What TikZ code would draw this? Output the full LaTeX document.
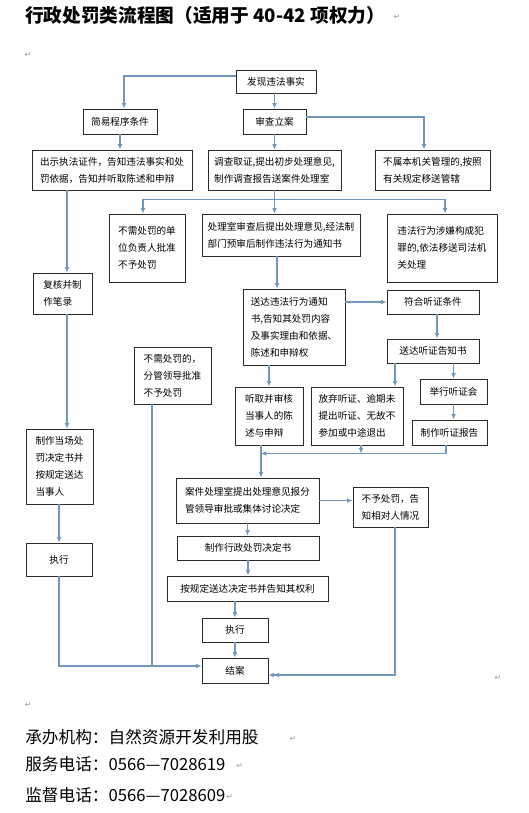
\documentclass[tikz,border=0pt]{standalone}
\usepackage{fontspec}
\setmainfont{Noto Sans CJK SC}
\newfontfamily\markfont{DejaVu Sans}
\usetikzlibrary{arrows.meta,positioning,calc}
\definecolor{flowblue}{HTML}{7397BC}
\definecolor{boxline}{HTML}{2A2A2A}
\definecolor{markgray}{HTML}{9A9A9A}
\tikzset{
  stepbox/.style={draw=boxline,fill=white,line width=0.7pt,align=left,
                  inner sep=0pt,font=\fontsize{7.2}{12.75}\selectfont},
  boxsize/.style 2 args={minimum width=#1*0.75pt,minimum height=#2*0.75pt},
  flow/.style={-{Latex[length=4pt,width=3.6pt]},line width=0.9pt,draw=flowblue},
  dblflow/.style={-{Latex[length=4pt,width=3.6pt]Latex[length=4pt,width=3.6pt]},
                  line width=0.9pt,draw=flowblue},
  plain/.style={line width=0.9pt,draw=flowblue},
  parmark/.style={font=\markfont\fontsize{6}{6}\selectfont,text=markgray,inner sep=0pt},
  infoline/.style={anchor=west,inner sep=0pt,font=\fontsize{12.5}{12.5}\selectfont}
}
\begin{document}
\begin{tikzpicture}[x=0.75pt,y=-0.75pt]
    \fill[white] (0,0) rectangle (528,813);
    \useasboundingbox (0,0) rectangle (528,813);

    \node[anchor=west,inner sep=0pt,font=\bfseries\fontsize{14}{14}\selectfont] (title) at (25,15)
      {行政处罚类流程图（适用于 40-42 项权力）};
    \node[parmark] (markA) at (397,17) {↵};
    \node[parmark] (markB) at (28,55) {↵};

    % top of the flow
    \node[stepbox,boxsize={80}{23},align=center] (fact) at (276,81.5) {发现违法事实};
    \node[stepbox,boxsize={74}{25},align=center] (simple) at (120,121.5) {简易程序条件};
    \node[stepbox,boxsize={63}{25},align=center] (file) at (274.5,121.5) {审查立案};
    \draw[flow] ($(fact.west)+(0,-5.5)$) -| ($(simple.north)+(4,0)$);
    \draw[flow] (fact.south -| file.north) -- (file.north);

    \node[stepbox,boxsize={160}{40}] (show) at (112,170)
      {出示执法证件，告知违法事实和处\\罚依据，告知并听取陈述和申辩};
    \node[stepbox,boxsize={133}{40}] (invest) at (274.5,170)
      {调查取证,提出初步处理意见,\\制作调查报告送案件处理室};
    \node[stepbox,boxsize={115}{40}] (transfer) at (432.5,170)
      {不属本机关管理的,按照\\有关规定移送管辖};
    \draw[flow] (simple.south) -- (simple.south |- show.north);
    \draw[flow] (file.south) -- (file.south |- invest.north);
    \draw[flow] ($(file.east)+(0,-4.5)$) -| ($(transfer.north)+(-8.5,0)$);

    \node[stepbox,boxsize={76}{68}] (nopenA) at (147,248)
      {不需处罚的单\\位负责人批准\\不予处罚};
    \node[stepbox,boxsize={158}{42}] (notice) at (281,235)
      {处理室审查后提出处理意见,经法制\\部门预审后制作违法行为通知书};
    \node[stepbox,boxsize={110}{68}] (crime) at (442,248)
      {违法行为涉嫌构成犯\\罪的,依法移送司法机\\关处理};
    \coordinate (split) at ($(invest.south)+(0,9)$);
    \draw[flow] (invest.south) -- (invest.south |- notice.north);
    \draw[flow] (split) -| ($(nopenA.north)+(-4,0)$);
    \draw[flow] (split) -| ($(crime.north)+(3,0)$);

    % simple procedure branch
    \node[stepbox,boxsize={59}{41}] (review) at (62.5,293.5) {复核并制\\作笔录};
    \node[stepbox,boxsize={67}{75}] (ticket) at (59.5,466.5)
      {制作当场处\\罚决定书并\\按规定送达\\当事人};
    \node[stepbox,boxsize={66}{33},align=center] (execA) at (59,559.5) {执行};
    \coordinate (revtop) at ($(review.north)+(4.5,0)$);
    \coordinate (tictop) at ($(ticket.north)+(7.5,0)$);
    \draw[flow] (revtop |- show.south) -- (revtop);
    \draw[flow] (tictop |- review.south) -- (tictop);
    \draw[flow] (ticket.south -| execA.north) -- (execA.north);

    \node[stepbox,boxsize={77}{57}] (nopenB) at (172.5,375.5)
      {不需处罚的，\\分管领导批准\\不予处罚};

    % notice and hearing
    \node[stepbox,boxsize={102}{76}] (serve) at (294,327)
      {送达违法行为通知\\书,告知其处罚内容\\及事实理由和依据、\\陈述和申辩权};
    \node[stepbox,boxsize={92}{24},align=center] (hearcond) at (433,302) {符合听证条件};
    \node[stepbox,boxsize={92}{24},align=center] (hearnote) at (433,351) {送达听证告知书};
    \node[stepbox,boxsize={67}{25},align=center] (hold) at (453.5,391.5) {举行听证会};
    \node[stepbox,boxsize={75}{25},align=center] (report) at (449.5,432.5) {制作听证报告};
    \node[stepbox,boxsize={68}{58}] (heard) at (269,416)
      {听取并审核\\当事人的陈\\述与申辩};
    \node[stepbox,boxsize={92}{58}] (waive) at (357,416)
      {放弃听证、逾期未\\提出听证、无故不\\参加或中途退出};
    \coordinate (svtop) at ($(notice.south)+(-4,0)$);
    \draw[flow] (svtop) -- (svtop |- serve.north);
    \draw[flow] (hearcond.west -| serve.east) -- (hearcond.west);
    \draw[flow] ($(hearcond.south)+(4,0)$) -- ($(hearnote.north)+(4,0)$);
    \coordinate (wvtop) at ($(hearnote.south)+(-38,0)$);
    \draw[flow] (wvtop) -- (wvtop |- waive.north);
    \draw[flow] (hold.north |- hearnote.south) -- (hold.north);
    \draw[flow] (hold.south) -- (hold.south |- report.north);
    \draw[flow] (heard.north |- serve.south) -- (heard.north);

    % decision
    \node[stepbox,boxsize={143}{45}] (decide) at (247.5,500.5)
      {案件处理室提出处理意见报分\\管领导审批或集体讨论决定};
    \node[stepbox,boxsize={75}{40}] (nopenC) at (390.5,507)
      {不予处罚，告\\知相对人情况};
    \node[stepbox,boxsize={142}{24},align=center] (write) at (248,548) {制作行政处罚决定书};
    \node[stepbox,boxsize={161}{25},align=center] (deliver) at (247.5,588.5)
      {按规定送达决定书并告知其权利};
    \node[stepbox,boxsize={66}{24},align=center] (execB) at (235,630) {执行};
    \node[stepbox,boxsize={66}{25},align=center] (close) at (235,670.5) {结案};

    \coordinate (merge) at ($(heard.south)+(-8,8)$);
    \coordinate (wvfoot) at ($(waive.south)+(4,0)$);
    \draw[flow] (heard.south -| merge) -- (decide.north -| merge);
    \draw[flow] ($(report.south)+(-3.5,0)$) |- (merge);
    \draw[flow] (wvfoot) -- (wvfoot |- merge);
    \draw[flow] (decide.east) -- (decide.east -| nopenC.west);
    \draw[flow] (decide.south) -- (decide.south |- write.north);
    \draw[flow] (write.south) -- (write.south |- deliver.north);
    \draw[flow] (execB.north |- deliver.south) -- (execB.north);
    \draw[flow] (execB) -- (close);

    % lines into the closing box
    \coordinate (closeW) at ($(close.west)+(0,-4.5)$);
    \coordinate (closeE) at ($(close.east)+(0,4.5)$);
    \coordinate (nbfoot) at ($(nopenB.south)+(-20.5,0)$);
    \coordinate (ncfoot) at ($(nopenC.south)+(4.5,0)$);
    \draw[flow] (execA.south) |- (closeW);
    \draw[plain] (nbfoot) -- (nbfoot |- closeW);
    \draw[dblflow] (ncfoot) |- (closeE);

    \node[parmark] (markC) at (498,678) {↵};
    \node[parmark] (markD) at (28,705) {↵};
    \node[infoline] (office) at (25,737) {承办机构：自然资源开发利用股};
    \node[infoline] (service) at (25,764) {服务电话：0566—7028619};
    \node[infoline] (supervise) at (25,795) {监督电话：0566—7028609};
    \node[parmark] (markE) at (293,739) {↵};
    \node[parmark,right=8pt of service.east,yshift=-1.5pt] (markF) {↵};
    \node[parmark,right=0.5pt of supervise.east,yshift=-1.5pt] (markG) {↵};
  \end{tikzpicture}
\end{document}
